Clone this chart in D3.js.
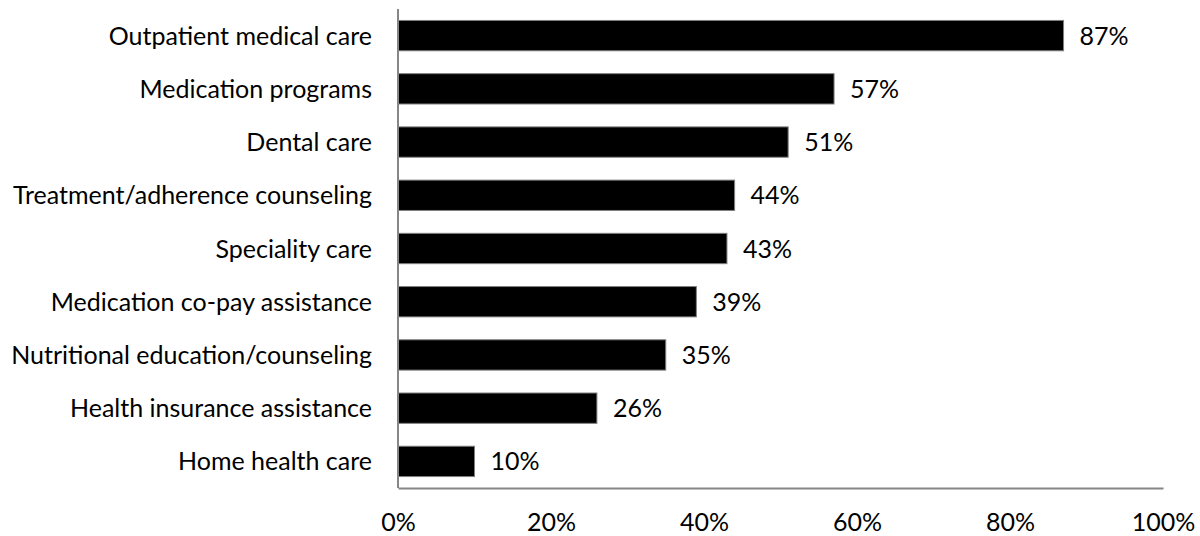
<!DOCTYPE html>
<html>
<head>
<meta charset="utf-8">
<script src="https://cdn.jsdelivr.net/npm/d3@7"></script>
<style>
  html, body { margin: 0; padding: 0; background: #fff; }
  svg { display: block; }
  text { font-family: Lato, "Open Sans", sans-serif; fill: #000; }
</style>
</head>
<body>
<svg id="chart" width="1200" height="536"></svg>
<script>
// Services offered (share of respondents)
const categories = [
  "Outpatient medical care",
  "Medication programs",
  "Dental care",
  "Treatment/adherence counseling",
  "Speciality care",
  "Medication co-pay assistance",
  "Nutritional education/counseling",
  "Health insurance assistance",
  "Home health care"
];
const values = [87, 57, 51, 44, 43, 39, 35, 26, 10];
const tickValues = [0, 20, 40, 60, 80, 100];

const width = 1200, height = 536;
const margin = { top: 9, right: 37, bottom: 48, left: 398 };
const fontSize = 25;

const svg = d3.select("#chart");

const x = d3.scaleLinear()
  .domain([0, 100])
  .range([margin.left, width - margin.right]);

const y = d3.scaleBand()
  .domain(categories)
  .range([margin.top, height - margin.bottom])
  .paddingInner(0.43)
  .paddingOuter(0.215);

// bars
svg.append("g")
  .selectAll("rect")
  .data(values)
  .join("rect")
  .attr("x", x(0))
  .attr("y", (d, i) => y(categories[i]))
  .attr("width", d => x(d) - x(0))
  .attr("height", y.bandwidth())
  .attr("fill", "#000")
  .attr("stroke", "#7f7f7f")
  .attr("stroke-width", 1);

// value labels
svg.append("g")
  .selectAll("text")
  .data(values)
  .join("text")
  .attr("x", d => x(d) + 16)
  .attr("y", (d, i) => y(categories[i]) + y.bandwidth() / 2)
  .attr("dy", "0.36em")
  .attr("font-size", fontSize)
  .text(d => d + "%");

// category axis
const yAxis = svg.append("g")
  .attr("transform", `translate(${margin.left},0)`)
  .call(d3.axisLeft(y).tickSize(0).tickPadding(26));
yAxis.select(".domain")
  .attr("stroke", "#868686")
  .attr("stroke-width", 2)
  .attr("d", `M0,${margin.top}V${height - margin.bottom}`);
yAxis.selectAll("text")
  .attr("font-size", fontSize)
  .attr("font-family", null)
  .attr("dy", "0.36em");

// value axis
const xAxis = svg.append("g")
  .attr("transform", `translate(0,${height - margin.bottom})`)
  .call(d3.axisBottom(x).tickValues(tickValues).tickSize(0).tickPadding(25)
    .tickFormat(d => d + "%"));
xAxis.select(".domain")
  .attr("stroke", "#868686")
  .attr("stroke-width", 2);
xAxis.selectAll("text")
  .attr("font-size", fontSize)
  .attr("font-family", null);
</script>
</body>
</html>
